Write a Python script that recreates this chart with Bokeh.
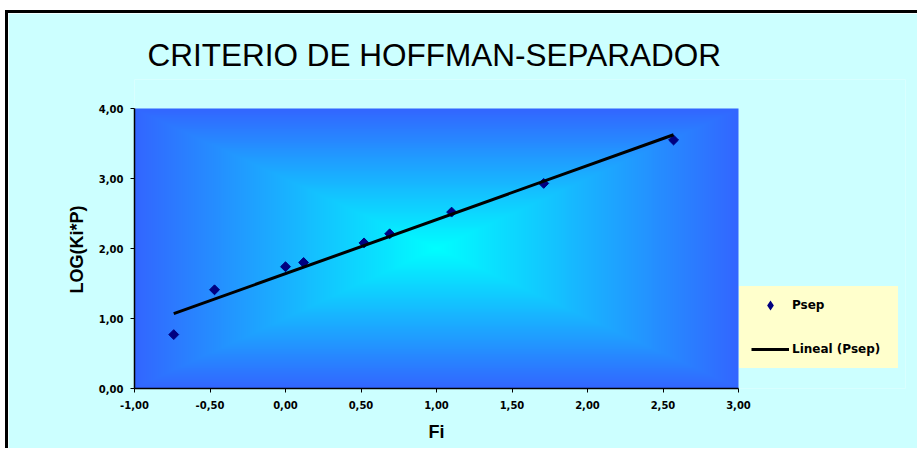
import numpy as np
from bokeh.plotting import figure
from bokeh.models import FixedTicker, Legend, LegendItem, ColumnDataSource, Title
from bokeh.embed import file_html
from bokeh.resources import INLINE

# ---- data ----
fi = [-0.74, -0.47, 0.00, 0.12, 0.52, 0.69, 1.10, 1.71, 2.57]
log_kp = [0.77, 1.41, 1.74, 1.80, 2.08, 2.21, 2.52, 2.93, 3.55]
x_ticks = [-1.0, -0.5, 0.0, 0.5, 1.0, 1.5, 2.0, 2.5, 3.0]
x_tick_labels = ["-1,00", "-0,50", "0,00", "0,50", "1,00", "1,50", "2,00", "2,50", "3,00"]
y_ticks = [0.0, 1.0, 2.0, 3.0, 4.0]
y_tick_labels = ["0,00", "1,00", "2,00", "3,00", "4,00"]
title_text = "CRITERIO DE HOFFMAN-SEPARADOR"
x_label = "Fi"
y_label = "LOG(Ki*P)"
series_name = "Psep"
trend_name = "Lineal (Psep)"

BG = "#CCFFFF"
X_MIN, X_MAX = -1.0, 3.0
Y_MIN, Y_MAX = 0.0, 4.0
PX_PER_X = 151.0
PX_PER_Y = 70.0
FRAME_LEFT, FRAME_RIGHT = 126, 897   # canvas px; frame reaches right to host the legend
FRAME_TOP, FRAME_BOTTOM = 66, 375    # frame reaches up to host the title
x_end = X_MIN + (FRAME_RIGHT - FRAME_LEFT) / PX_PER_X
y_end = Y_MIN + (FRAME_BOTTOM - FRAME_TOP) / PX_PER_Y

p = figure(width=912, height=438, x_range=(X_MIN, x_end), y_range=(Y_MIN, y_end),
           output_backend="svg", toolbar_location=None,
           min_border_left=FRAME_LEFT, min_border_right=912 - FRAME_RIGHT,
           min_border_top=FRAME_TOP, min_border_bottom=438 - FRAME_BOTTOM,
           border_fill_color=BG, background_fill_color=BG,
           outline_line_color=None)
p.margin = (10, 0, 0, 5)
p.styles = {"border-top": "3px solid black", "border-left": "3px solid black"}

# gradient background ("from center" rectangular gradient) over the plot area
n = 300
u = np.linspace(-1, 1, n)
U, V = np.meshgrid(u, u)
t = np.maximum(np.abs(U), np.abs(V))
c0 = np.array([0, 255, 255])
c1 = np.array([51, 102, 255])
img = np.zeros((n, n, 4), dtype=np.uint8)
for k in range(3):
    img[:, :, k] = (c0[k] + (c1[k] - c0[k]) * t).astype(np.uint8)
img[:, :, 3] = 255
p.image_rgba(image=[img.view(np.uint32).reshape(n, n)], x=X_MIN, y=Y_MIN,
             dw=X_MAX - X_MIN, dh=Y_MAX - Y_MIN)

# trend line from least squares fit
slope, intercept = np.polyfit(fi, log_kp, 1)
tx = [min(fi), max(fi)]
ty = [slope * v + intercept for v in tx]
src = ColumnDataSource(dict(x=fi, y=log_kp))
p.scatter("x", "y", source=src, marker="square", size=7, angle=np.pi / 4,
          fill_color="#000080", line_color="#000080")
r_line = p.line(tx, ty, line_color="black", line_width=3)
# legend swatch for the series (a diamond; NaN so it draws nothing in the plot)
r_key = p.scatter(x=[np.nan], y=[np.nan], marker="diamond", line_width=2.5,
                  line_join="miter", fill_color="#000080", line_color="#000080")

p.title.text = title_text
p.title.text_font = "Liberation Sans"
p.title.text_font_size = "31.5px"
p.title.text_font_style = "normal"
p.title.text_color = "black"
p.title.align = "left"
p.title.standoff = 14
p.title.offset = 13

p.xgrid.visible = False
p.ygrid.visible = False

for ax in (p.xaxis[0], p.yaxis[0]):
    ax.axis_line_color = "black"
    ax.axis_line_width = 1.5
    ax.major_tick_line_color = "black"
    ax.major_tick_out = 4
    ax.major_tick_in = 0
    ax.minor_tick_line_color = None
    ax.major_label_text_font = "DejaVu Sans"
    ax.major_label_text_font_style = "bold"
    ax.major_label_text_font_size = "10px"
    ax.major_label_text_color = "black"

p.xaxis.bounds = (X_MIN, X_MAX)
p.yaxis.bounds = (Y_MIN, Y_MAX)
p.xaxis.ticker = FixedTicker(ticks=x_ticks)
p.xaxis.major_label_overrides = {v: s for v, s in zip(x_ticks, x_tick_labels)}
p.yaxis.ticker = FixedTicker(ticks=y_ticks)
p.yaxis.major_label_overrides = {v: s for v, s in zip(y_ticks, y_tick_labels)}
p.xaxis.major_label_standoff = 8
p.yaxis.major_label_standoff = 7

# axis titles, placed along the real axis spans
axis_title_style = dict(text_font="Liberation Sans", text_font_style="bold",
                        text_font_size="18px", text_color="black")
yt = Title(text=y_label, align="left", offset=95, standoff=18, **axis_title_style)
p.add_layout(yt, "left")
xt = Title(text=x_label, align="left", offset=294, standoff=16, **axis_title_style)
p.add_layout(xt, "below")

legend = Legend(items=[LegendItem(label=series_name, renderers=[r_key]),
                       LegendItem(label=trend_name, renderers=[r_line])],
                location=(605, 20))
legend.background_fill_color = "#FFFFCC"
legend.background_fill_alpha = 1
legend.border_line_color = "#FFFFCC"
legend.border_line_width = 12
legend.label_text_font = "DejaVu Sans"
legend.label_text_font_style = "bold"
legend.label_text_font_size = "12px"
legend.label_text_color = "black"
legend.padding = 0
legend.margin = 0
legend.spacing = 30
legend.glyph_width = 38
legend.glyph_height = 14
legend.label_height = 14
legend.label_width = 94
legend.label_standoff = 3
p.add_layout(legend)

open("out.html", "w").write(file_html(p, INLINE))
